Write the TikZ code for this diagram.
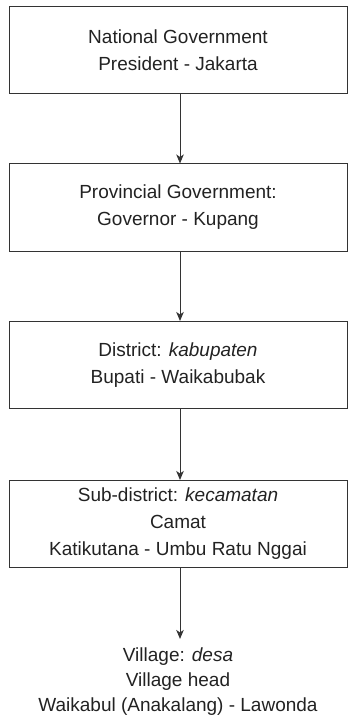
\documentclass[tikz,border=0pt]{standalone}
\usepackage{fontspec}
\setmainfont{Liberation Sans}
\usetikzlibrary{arrows.meta}
\definecolor{ink}{HTML}{222222}
\definecolor{edge}{HTML}{333333}
\begin{document}
\begin{tikzpicture}[x=1pt,y=-1pt,
  lvl/.style={draw=edge, line width=1pt, rectangle, minimum width=338pt, minimum height=87pt,
    align=center, text=ink, font=\fontsize{19}{27}\selectfont, inner sep=0pt},
  free/.style={align=center, text=ink, font=\fontsize{19}{25}\selectfont, inner xsep=3pt, inner ysep=9pt},
  conn/.style={draw=edge, line width=1pt, -{Stealth[length=9pt,width=7.5pt,inset=2.5pt]}}]
\useasboundingbox (0,0) rectangle (348,719);
\node[lvl] (nat) at (178,50.5) {National Government\\President - Jakarta};
\node[lvl] (prov) at (178,207.5) {Provincial Government:\\Governor - Kupang};
\node[lvl] (dist) at (178,365) {District: \textit{kabupaten}\\Bupati - Waikabubak};
\node[lvl] (sub) at (178,524) {Sub-district: \textit{kecamatan}\\Camat\\Katikutana - Umbu Ratu Nggai};
\node[free] (vil) at (178,682) {Village: \textit{desa}\\Village head\\Waikabul (Anakalang) - Lawonda};
\coordinate (ax) at (180,0);
\draw[conn] (nat.south -| ax) -- (prov.north -| ax);
\draw[conn] (prov.south -| ax) -- (dist.north -| ax);
\draw[conn] (dist.south -| ax) -- (sub.north -| ax);
\draw[conn] (sub.south -| ax) -- (vil.north -| ax);
\end{tikzpicture}
\end{document}
